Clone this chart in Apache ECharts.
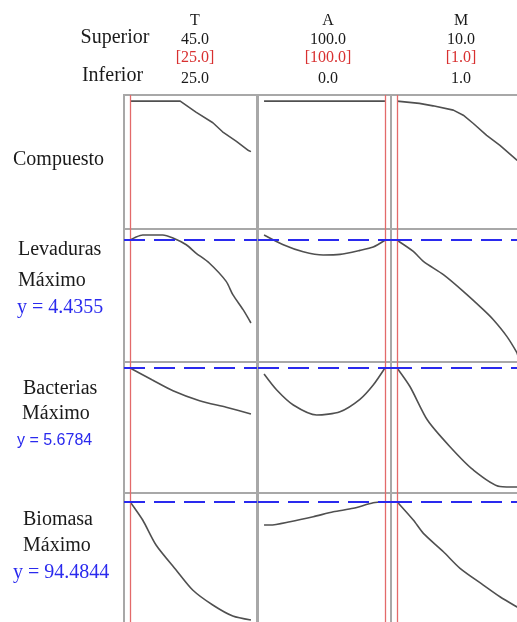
<!DOCTYPE html>
<html>
<head>
<meta charset="utf-8">
<script src="https://cdn.jsdelivr.net/npm/echarts@6/dist/echarts.min.js"></script>
<style>
  html, body { margin: 0; padding: 0; background: #fff; overflow: hidden; }
  #chart { width: 540px; height: 640px; }
</style>
</head>
<body>
<div id="chart"></div>
<script>
// Factor settings
const factors = ['T', 'A', 'M'];
const upper = [45.0, 100.0, 10.0];
const lower = [25.0, 0.0, 1.0];
const current = [25.0, 100.0, 1.0];

// Responses (rows) and their predicted values at the current setting
const responses = ['Compuesto', 'Levaduras', 'Bacterias', 'Biomasa'];
const goal = 'Máximo';
const predicted = [null, 4.4355, 5.6784, 94.4844];

// Composite desirability vs each factor
const compuestoT = [[25, 1], [33.3, 1], [35.9, 0.909], [38.7, 0.822], [40.3, 0.748], [42.6, 0.670], [44.6, 0.594], [45, 0.585]];
const compuestoA = [[0, 1], [100, 1]];
const compuestoM = [[1, 1], [2.66, 0.981], [3.68, 0.961], [5.19, 0.926], [5.93, 0.884], [6.68, 0.816], [7.67, 0.719], [8.66, 0.636], [9.9, 0.518], [10, 0.51]];

// Levaduras
const levadurasT = [[25, 4.4355], [26.0, 4.476], [27.1, 4.501], [30.4, 4.501], [32.1, 4.463], [34.3, 4.380], [35.9, 4.277], [38.1, 4.153], [40.9, 3.925], [42.0, 3.760], [43.7, 3.574], [45, 3.409]];
const levadurasA = [[0, 4.501], [15.9, 4.380], [32.4, 4.293], [48.9, 4.252], [62.8, 4.260], [79.3, 4.310], [90.3, 4.352], [100, 4.4355]];
const levadurasM = [[1, 4.4355], [2.21, 4.297], [2.96, 4.173], [4.45, 4.008], [5.93, 3.801], [7.42, 3.574], [8.17, 3.449], [9.17, 3.243], [9.91, 3.044], [10, 3.0]];

// Bacterias
const bacteriasT = [[25, 5.6784], [28.7, 5.458], [32.1, 5.262], [36.5, 5.079], [40.9, 4.959], [45, 4.836]];
const bacteriasA = [[0, 5.568], [10.5, 5.275], [24.2, 5.001], [43.5, 4.818], [62.8, 4.878], [79.3, 5.105], [90.3, 5.367], [100, 5.6784]];
const bacteriasM = [[1, 5.6784], [1.97, 5.335], [3.26, 4.726], [4.94, 4.238], [6.68, 3.812], [8.66, 3.51], [10, 3.50]];

// Biomasa
const biomasaT = [[25, 94.4844], [27.09, 88.99], [29.3, 81.49], [32.62, 73.99], [35.36, 67.99], [38.68, 63.49], [41.99, 60.19], [45, 58.99]];
const biomasaA = [[0, 87.49], [4.9, 87.49], [21.5, 88.48], [40.7, 89.98], [57.3, 91.48], [73.8, 92.50], [90.3, 94.18], [100, 94.4844]];
const biomasaM = [[1, 94.4844], [2.21, 88.99], [2.96, 85.00], [4.45, 79.48], [5.69, 74.50], [7.42, 69.49], [8.66, 65.98], [9.9, 62.98], [10, 62.8]];

const curves = [
  [compuestoT, compuestoA, compuestoM],
  [levadurasT, levadurasA, levadurasM],
  [bacteriasT, bacteriasA, bacteriasM],
  [biomasaT, biomasaA, biomasaM]
];

// Vertical axis range of each response row
const yLow = [-0.05, 2.925, 3.3911, 57.2];
const yHigh = [1.05, 4.575, 5.7873, 97.1];

// Panel layout (the last column and row run past the visible edge)
const colLeft = [124, 258, 391];
const colWidth = 133;
const rowTop = [95, 229, 362, 493];
const rowHeight = [134, 133, 131, 133];

const SERIF = "'Liberation Serif', 'Times New Roman', serif";
const GRAY = '#a8a8a8';
const CURVE = '#505050';
const RED = '#e36a6a';
const BLUE = '#2a2aee';

const grids = [], xAxes = [], yAxes = [], series = [];
for (let r = 0; r < responses.length; r++) {
  for (let c = 0; c < factors.length; c++) {
    const i = r * factors.length + c;
    grids.push({
      left: colLeft[c], top: rowTop[r], width: colWidth, height: rowHeight[r],
      outerBoundsMode: 'none',
      show: true, borderColor: GRAY, borderWidth: 2, backgroundColor: 'transparent'
    });
    const span = upper[c] - lower[c];
    xAxes.push({
      type: 'value', gridIndex: i,
      min: lower[c] - 0.05 * span, max: upper[c] + 0.05 * span,
      show: false
    });
    yAxes.push({
      type: 'value', gridIndex: i, min: yLow[r], max: yHigh[r], show: false
    });
    const marks = [{ xAxis: current[c], lineStyle: { color: RED, width: 1.3, type: 'solid' } }];
    if (predicted[r] !== null) {
      marks.push({ yAxis: predicted[r], lineStyle: { color: BLUE, width: 2, type: [21, 9] } });
    }
    series.push({
      type: 'line', xAxisIndex: i, yAxisIndex: i,
      data: curves[r][c], showSymbol: false, silent: true,
      smooth: r === 0 ? false : 0.25,
      lineStyle: { color: CURVE, width: 1.6 },
      markLine: { silent: true, symbol: 'none', label: { show: false }, animation: false, data: marks }
    });
  }
}

// Header and row labels
const graphic = [];
function txt(x, y, s, opts) {
  graphic.push({
    type: 'text', x: x, y: y, silent: true,
    style: Object.assign({
      text: s, fill: '#1a1a1a', font: '16px ' + SERIF,
      textAlign: 'center', textVerticalAlign: 'middle'
    }, opts || {})
  });
}
const headX = [195, 328, 461];
for (let c = 0; c < factors.length; c++) {
  txt(headX[c], 21, factors[c]);
  txt(headX[c], 40, upper[c].toFixed(1));
  txt(headX[c], 58, '[' + current[c].toFixed(1) + ']', { fill: '#d83030' });
  txt(headX[c], 79, lower[c].toFixed(1));
}
txt(115, 38, 'Superior', { font: '20px ' + SERIF });
txt(112.5, 76, 'Inferior', { font: '20px ' + SERIF });

const big = { font: '20px ' + SERIF, textAlign: 'left' };
txt(13, 160, responses[0], big);
txt(18, 250, responses[1], big);
txt(18, 281, goal, big);
txt(17, 308, 'y = ' + predicted[1].toFixed(4), Object.assign({}, big, { fill: BLUE }));
txt(23, 389, responses[2], big);
txt(22, 414, goal, big);
txt(17, 441, 'y = ' + predicted[2].toFixed(4), { font: "16px 'Liberation Sans', Arial, sans-serif", textAlign: 'left', fill: BLUE });
txt(23, 520, responses[3], big);
txt(23, 545.5, goal, big);
txt(13, 573, 'y = ' + predicted[3].toFixed(4), Object.assign({}, big, { fill: BLUE }));

const chart = echarts.init(document.getElementById('chart'), null, { renderer: 'canvas' });
chart.setOption({
  animation: false,
  backgroundColor: '#ffffff',
  grid: grids,
  xAxis: xAxes,
  yAxis: yAxes,
  series: series,
  graphic: graphic
});
</script>
</body>
</html>
